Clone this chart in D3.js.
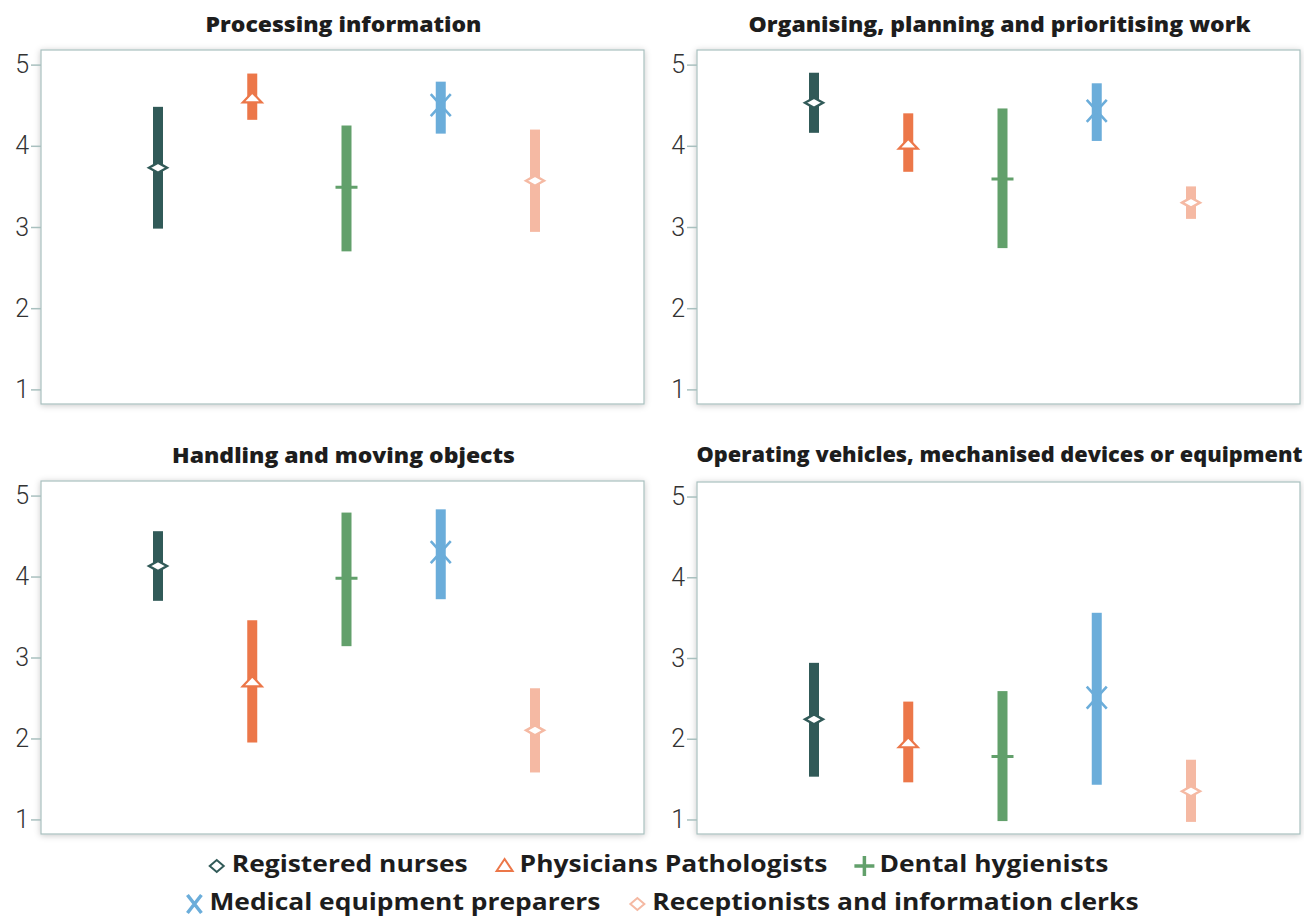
<!DOCTYPE html>
<html><head><meta charset="utf-8">
<script src="https://cdn.jsdelivr.net/npm/d3@7"></script>
<style>
html,body{margin:0;padding:0;background:#fff;}
svg{display:block;}
</style></head>
<body>
<svg id="chart" width="1304" height="916"></svg>
<script>
// ---- data ----
const categories = ["Registered nurses","Physicians Pathologists","Dental hygienists","Medical equipment preparers","Receptionists and information clerks"];
const panelTitles = ["Processing information","Organising, planning and prioritising work","Handling and moving objects","Operating vehicles, mechanised devices or equipment"];
const yTicks = [1,2,3,4,5];
const meanP1 = [3.73, 4.59, 3.49, 4.50, 3.57];
const lowP1  = [2.98, 4.32, 2.70, 4.15, 2.94];
const highP1 = [4.48, 4.89, 4.25, 4.79, 4.20];
const meanP2 = [4.53, 4.02, 3.59, 4.43, 3.30];
const lowP2  = [4.16, 3.68, 2.74, 4.06, 3.10];
const highP2 = [4.90, 4.40, 4.46, 4.77, 3.50];
const meanP3 = [4.13, 2.70, 3.98, 4.30, 2.10];
const lowP3  = [3.70, 1.95, 3.14, 3.72, 1.58];
const highP3 = [4.56, 3.46, 4.79, 4.83, 2.62];
const meanP4 = [2.24, 1.95, 1.78, 2.51, 1.35];
const lowP4  = [1.53, 1.46, 0.98, 1.43, 0.97];
const highP4 = [2.94, 2.46, 2.59, 3.56, 1.74];

const colors = ["#315a58","#ec7749","#62a06b","#6badda","#f5b9a3"];
const symbols = ["diamond","triangle","plus","cross","diamond"];

const panelsData = [
  {title: panelTitles[0], mean: meanP1, low: lowP1, high: highP1},
  {title: panelTitles[1], mean: meanP2, low: lowP2, high: highP2},
  {title: panelTitles[2], mean: meanP3, low: lowP3, high: highP3},
  {title: panelTitles[3], mean: meanP4, low: lowP4, high: highP4}
];
const panelPos = [
  {x:41, y:50, w:603, h:354, ty:27},
  {x:697, y:50, w:603, h:354, ty:27},
  {x:41, y:481, w:603, h:353, ty:458},
  {x:697, y:482, w:603, h:352, ty:457}
];

const svg = d3.select("#chart");
const defs = svg.append("defs");
const f = defs.append("filter").attr("id","shadow").attr("x","-5%").attr("y","-5%").attr("width","110%").attr("height","110%");
f.append("feDropShadow").attr("dx",0).attr("dy",1).attr("stdDeviation",3).attr("flood-color","#000").attr("flood-opacity",0.22);

const titleFont = "'Open Sans', Roboto, sans-serif";

function widen(t, stretch, maxW) {
  let w = t.node().getComputedTextLength() * stretch;
  if (maxW && w > maxW) w = maxW;
  t.attr("textLength", w).attr("lengthAdjust","spacingAndGlyphs");
  return w;
}

function drawMarker(g, type, color) {
  if (type === "diamond") {
    g.append("path").attr("d", "M-9,0 L0,-5 L9,0 L0,5 Z")
      .attr("fill","#fff").attr("stroke",color).attr("stroke-width",2.4);
  } else if (type === "triangle") {
    g.append("path").attr("d", "M-9.5,4.5 L0,-5.5 L9.5,4.5 Z")
      .attr("fill","#fff").attr("stroke",color).attr("stroke-width",2.2);
  } else if (type === "plus") {
    g.append("path").attr("d", "M-11,0 L11,0 M0,-11 L0,11")
      .attr("stroke",color).attr("stroke-width",3).attr("fill","none");
  } else if (type === "cross") {
    g.append("path").attr("d", "M-10,-11 L10,11 M-10,11 L10,-11")
      .attr("stroke",color).attr("stroke-width",2.6).attr("fill","none");
  }
}

panelsData.forEach((p, i) => {
  const pos = panelPos[i];
  const g = svg.append("g").attr("transform", `translate(${pos.x},${pos.y})`);
  const y = d3.scaleLinear().domain([0.82, 5.18]).range([pos.h, 0]);
  const x = d3.scalePoint().domain(categories).range([117, 494]);

  g.append("rect").attr("x",0).attr("y",0).attr("width",pos.w).attr("height",pos.h)
    .attr("fill","#fff").attr("stroke","#a9c0bf").attr("stroke-width",1.2).attr("filter","url(#shadow)");

  const ax = g.append("g").call(d3.axisLeft(y).tickValues(yTicks).tickSize(10).tickPadding(2).tickFormat(d3.format("d")));
  ax.select(".domain").remove();
  ax.selectAll(".tick line").attr("stroke","#a9c0bf").attr("stroke-width",1.5);
  ax.selectAll(".tick text").attr("font-family","Roboto, sans-serif").attr("font-weight",300)
    .attr("font-size",25).attr("fill","#333");

  const tt = svg.append("text").attr("x", pos.x + pos.w/2 + 1).attr("y", pos.ty)
    .attr("text-anchor","middle").attr("dominant-baseline","middle")
    .attr("font-family",titleFont).attr("font-weight",800).attr("font-size",20.5)
    .attr("fill","#1d1d1d").text(p.title);
  widen(tt, 1.12, 606);

  categories.forEach((c, j) => {
    g.append("rect").attr("x", x(c)-5).attr("width",10)
      .attr("y", y(p.high[j])).attr("height", y(p.low[j]) - y(p.high[j]))
      .attr("fill", colors[j]);
    const mg = g.append("g").attr("transform", `translate(${x(c)},${y(p.mean[j])})`);
    drawMarker(mg, symbols[j], colors[j]);
  });
});

// legend
const legendRows = [[0,1,2],[3,4]];
const legendY = [866, 904];
const legendCenter = [658, 662];
legendRows.forEach((row, r) => {
  const lg = svg.append("g");
  let cx = 0;
  row.forEach((j, k) => {
    const item = lg.append("g").attr("transform", `translate(${cx},0)`);
    const m = item.append("g").attr("transform","translate(9,0)");
    if (symbols[j]==="diamond") {
      m.append("path").attr("d","M-7,0 L0,-6 L7,0 L0,6 Z").attr("fill","#fff").attr("stroke",colors[j]).attr("stroke-width",2);
    } else if (symbols[j]==="triangle") {
      m.append("path").attr("d","M-8,5 L0,-7 L8,5 Z").attr("fill","#fff").attr("stroke",colors[j]).attr("stroke-width",2);
    } else if (symbols[j]==="plus") {
      m.append("path").attr("d","M-10,0 L10,0 M0,-10 L0,10").attr("stroke",colors[j]).attr("stroke-width",3.5);
    } else {
      m.append("path").attr("d","M-7,-9 L7,9 M-7,9 L7,-9").attr("stroke",colors[j]).attr("stroke-width",3.5);
    }
    const t = item.append("text").attr("x", 24).attr("y",0).attr("dominant-baseline","middle")
      .attr("font-family",titleFont).attr("font-weight",700).attr("font-size",24).attr("fill","#1d1d1d")
      .text(categories[j]);
    const w = widen(t, 1.10);
    cx += 24 + w + 28;
  });
  const total = cx - 28;
  lg.attr("transform", `translate(${legendCenter[r] - total/2},${legendY[r]})`);
});
</script>
</body></html>
